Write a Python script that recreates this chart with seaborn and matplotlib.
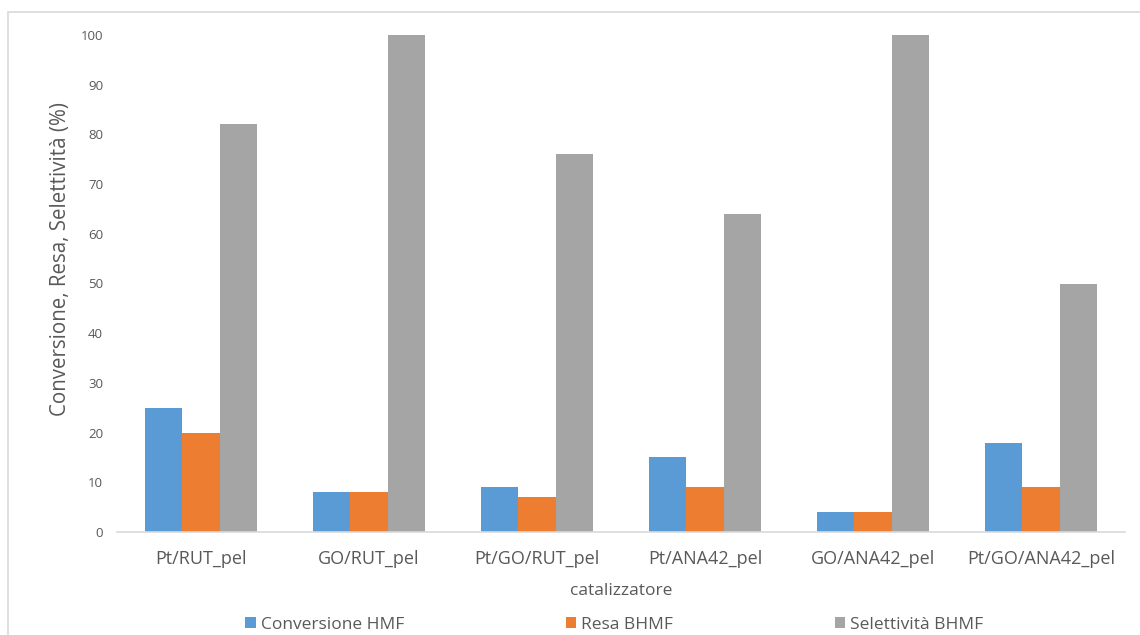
import pandas as pd
import matplotlib.pyplot as plt
import matplotlib.patches as mpatches
import seaborn as sns

# values
catalysts = ["Pt/RUT_pel", "GO/RUT_pel", "Pt/GO/RUT_pel",
             "Pt/ANA42_pel", "GO/ANA42_pel", "Pt/GO/ANA42_pel"]
conversione_hmf = [25, 8, 9, 15, 4, 18]
resa_bhmf = [20, 8, 7, 9, 4, 9]
selettivita_bhmf = [82, 100, 76, 64, 100, 50]
series_names = ["Conversione HMF", "Resa BHMF", "Selettività BHMF"]
y_ticks = list(range(0, 101, 10))

df = pd.DataFrame({
    "catalizzatore": catalysts * 3,
    "serie": [s for s in series_names for _ in catalysts],
    "valore": conversione_hmf + resa_bhmf + selettivita_bhmf,
})

sns.set_theme(style="white")
plt.rcParams['font.family'] = ['Open Sans', 'DejaVu Sans']
text_col = "#595959"

fig = plt.figure(figsize=(11.4, 6.35), dpi=100)
ax = fig.add_axes([117 / 1140, 1 - 532 / 635, 1008 / 1140, 497 / 635])

palette = ["#5B9BD5", "#ED7D31", "#A5A5A5"]
sns.barplot(data=df, x="catalizzatore", y="valore", hue="serie",
            palette=palette, width=0.667, gap=0, saturation=1,
            edgecolor="none", linewidth=0, ax=ax)

for b in ax.patches:
    b.set_clip_on(False)

ax.set_ylim(0, 100)
ax.set_xlim(-0.5, len(catalysts) - 0.5)
ax.set_yticks(y_ticks)
ax.tick_params(axis="y", labelsize=9.5, colors=text_col, length=0, pad=10)
ax.tick_params(axis="x", labelsize=13, colors=text_col, length=0, pad=13)
for sp in ["top", "right", "left"]:
    ax.spines[sp].set_visible(False)
ax.spines["bottom"].set_color("#D9D9D9")
ax.spines["bottom"].set_linewidth(1.2)

ax.set_xlabel("catalizzatore", fontsize=12.5, color=text_col, labelpad=11)
ax.set_ylabel("Conversione, Resa, Selettività (%)", fontsize=14.8,
              color=text_col)
ax.yaxis.set_label_coords(-0.046, 0.549)

handles, labels = ax.get_legend_handles_labels()
ax.legend_.remove()
fig.legend(handles, labels, loc="center", bbox_to_anchor=(0.539, 1 - 625 / 635),
           ncol=3, frameon=False, fontsize=12.5, labelcolor=text_col,
           handlelength=0.6, handleheight=0.6, handletextpad=0.3,
           columnspacing=9.3)

# outer chart-area border
fig.patches.append(mpatches.Rectangle((8 / 1140, -0.05), 1.1, 1 - 12 / 635 + 0.05,
                                      transform=fig.transFigure, fill=False,
                                      edgecolor="#D9D9D9", linewidth=1.2))

fig.savefig("out.png", dpi=100)
